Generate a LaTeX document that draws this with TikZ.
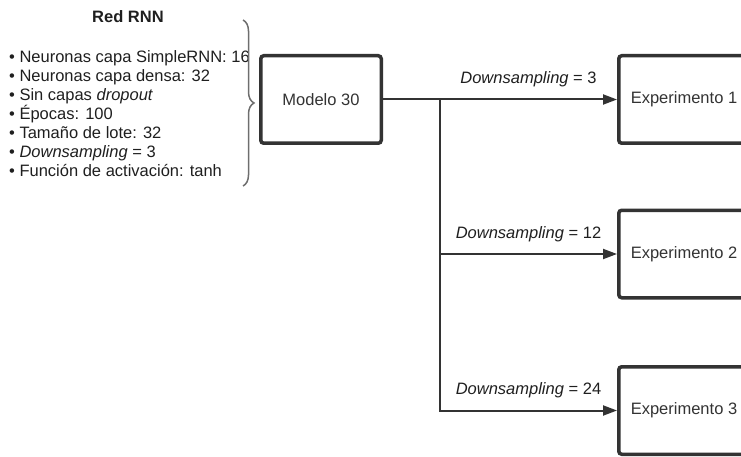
\documentclass[tikz,border=0pt]{standalone}
\usepackage{fontspec}
\setmainfont{Liberation Sans}
\usetikzlibrary{arrows.meta,decorations.pathreplacing}
\definecolor{boxgray}{HTML}{333333}
\definecolor{textdark}{HTML}{1F1F1F}
\definecolor{bracegray}{HTML}{6E6E6E}
\begin{document}
\begin{tikzpicture}
        [x=1pt, y=-1pt,
        every node/.style={font=\fontsize{16.5}{19}\selectfont, text=boxgray},
        box/.style={draw=boxgray, line width=3.5pt, rounded corners=3pt, minimum width=120.5pt, minimum height=87.5pt},
        expbox/.style={box, minimum width=130.5pt},
        link/.style={draw=boxgray, line width=2pt},
        arrow/.style={link, -{Triangle[length=14pt, width=10pt]}},
        dslabel/.style={above=8pt, text=textdark}]
        \useasboundingbox (0,0) rectangle (741,457);
        \node[font=\bfseries\fontsize{16.5}{19}\selectfont, text=textdark] (title) at (128,17) {Red RNN};
        \node[anchor=base west, align=left, inner sep=0pt, text=textdark] (params) at (9,176.5)
            {• Neuronas capa SimpleRNN: 16\\
             • Neuronas capa densa: 32\\
             • Sin capas \textit{dropout}\\
             • Épocas: 100\\
             • Tamaño de lote: 32\\
             • \textit{Downsampling} = 3\\
             • Función de activación: tanh};
        \coordinate (braceTop) at (243,20);
        \coordinate (braceBot) at (243,186);
        \draw[bracegray, line width=1.5pt, decorate, decoration={brace, amplitude=11pt}] (braceTop) -- (braceBot);
        
        \node[box] (modelo) at (321,99.5) {Modelo 30};
        \node[expbox] (exp1) at (684,99.5) {Experimento 1};
        \node[expbox] (exp2) at (684,254) {Experimento 2};
        \node[expbox] (exp3) at (684,410.5) {Experimento 3};
        \coordinate (split) at (440,99.5);
        
        \draw[link] (modelo) -- (split);
        \draw[arrow] (split) -- node[dslabel] {\textit{Downsampling} = 3} (exp1);
        \draw[arrow] (split) |- node[dslabel, pos=0.75] {\textit{Downsampling} = 12} (exp2);
        \draw[arrow] (split) |- node[dslabel, pos=0.75] {\textit{Downsampling} = 24} (exp3);
    \end{tikzpicture}
\end{document}
